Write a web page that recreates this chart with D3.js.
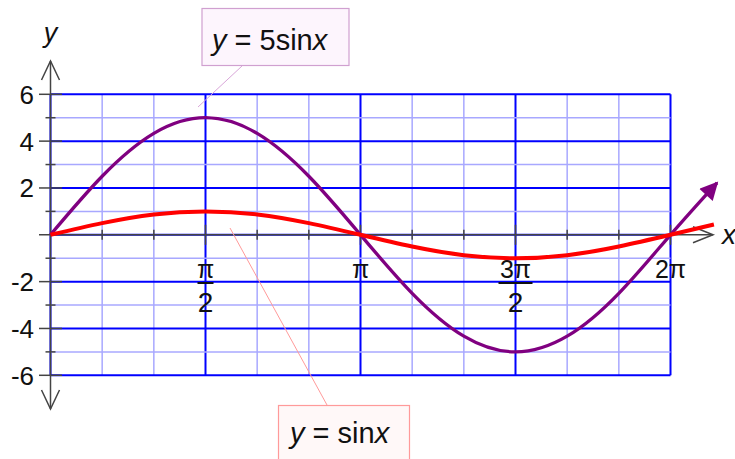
<!DOCTYPE html>
<html>
<head>
<meta charset="utf-8">
<script src="https://cdn.jsdelivr.net/npm/d3@7"></script>
<style>
  body { margin: 0; background: #fff; }
  svg { display: block; font-family: "Liberation Sans", Arial, sans-serif; }
</style>
</head>
<body>
<svg id="chart" width="735" height="459"></svg>
<script>
// x positions are in units of pi/6 (0 .. 12 = 0 .. 2pi)
const sinX = [0, 1, 2, 3, 4, 5, 6, 7, 8, 9, 10, 11, 12, 12.84]
const sinY = [0, 0.5, 0.87, 1, 0.87, 0.5, 0, -0.5, -0.87, -1, -0.87, -0.5, 0, 0.44]
const fiveSinX = [0, 1, 2, 3, 4, 5, 6, 7, 8, 9, 10, 11, 12, 12.9]
const fiveSinY = [0, 2.5, 4.33, 5, 4.33, 2.5, 0, -2.5, -4.33, -5, -4.33, -2.5, 0, 2.22]

const gridX = [0, 1, 2, 3, 4, 5, 6, 7, 8, 9, 10, 11, 12]
const gridY = [-6, -5, -4, -3, -2, -1, 0, 1, 2, 3, 4, 5, 6]
const yTickLabels = [
    { v: 6, t: "6" }, { v: 4, t: "4" }, { v: 2, t: "2" },
    { v: -2, t: "-2" }, { v: -4, t: "-4" }, { v: -6, t: "-6" }
]
const xTickLabels = [
    { v: 3, num: "π", den: "2" },
    { v: 6, num: "π", den: null },
    { v: 9, num: "3π", den: "2" },
    { v: 12, num: "2π", den: null }
]

const svg = d3.select("#chart")

const x = d3.scaleLinear().domain([0, 12]).range([50.5, 670.5])
const y = d3.scaleLinear().domain([-6, 6]).range([375.3, 94.3])

const axisColor = "#444"

// grid
const grid = svg.append("g")
grid.selectAll("line.vgrid")
    .data(gridX)
    .join("line")
    .attr("x1", d => x(d)).attr("x2", d => x(d))
    .attr("y1", y(6)).attr("y2", y(-6))
    .style("stroke", d => d % 3 === 0 ? "#0000ff" : "#a8a8ff")
    .style("stroke-width", d => d % 3 === 0 ? 2 : 1.5)

grid.selectAll("line.hgrid")
    .data(gridY)
    .join("line")
    .attr("x1", x(0)).attr("x2", x(12))
    .attr("y1", d => y(d)).attr("y2", d => y(d))
    .style("stroke", d => d % 2 === 0 ? "#0000ff" : "#a8a8ff")
    .style("stroke-width", d => d % 2 === 0 ? 2 : 1.5)

// axes
const axes = svg.append("g")
    .style("stroke", axisColor)
    .style("stroke-width", 1.5)
    .style("fill", "none")

axes.append("line")
    .attr("x1", x(0)).attr("x2", x(0))
    .attr("y1", 61).attr("y2", 409)
axes.append("line")
    .attr("x1", 39).attr("x2", 713)
    .attr("y1", y(0)).attr("y2", y(0))

// arrow chevrons
axes.append("polyline")
    .attr("points", `${x(0) - 9},80 ${x(0)},61 ${x(0) + 9},80`)
axes.append("polyline")
    .attr("points", `${x(0) - 9},390 ${x(0)},409 ${x(0) + 9},390`)
axes.append("polyline")
    .attr("points", `693,${y(0) - 8} 713,${y(0)} 693,${y(0) + 8}`)

// y ticks
axes.selectAll("line.ytick")
    .data(gridY.filter(d => d !== 0))
    .join("line")
    .attr("x1", d => d % 2 === 0 ? 39 : 45.5)
    .attr("x2", d => d % 2 === 0 ? 62 : 55.5)
    .attr("y1", d => y(d)).attr("y2", d => y(d))

// x ticks
axes.selectAll("line.xtick")
    .data(gridX.filter(d => d !== 0))
    .join("line")
    .attr("x1", d => x(d)).attr("x2", d => x(d))
    .attr("y1", d => y(0) - (d % 3 === 0 ? 10 : 5))
    .attr("y2", d => y(0) + (d % 3 === 0 ? 10 : 5))

// y tick labels
svg.append("g").selectAll("text")
    .data(yTickLabels)
    .join("text")
    .attr("x", 34)
    .attr("y", d => y(d.v) + 9.5)
    .attr("text-anchor", "end")
    .style("font-size", "26px")
    .style("fill", "#111")
    .text(d => d.t)

// x tick labels
const xl = svg.append("g").selectAll("g")
    .data(xTickLabels)
    .join("g")
    .attr("transform", d => `translate(${x(d.v)},0)`)

xl.append("text")
    .attr("y", 278)
    .attr("text-anchor", "middle")
    .style("font-size", "25px")
    .style("fill", "#111")
    .text(d => d.num)

xl.filter(d => d.den)
    .append("line")
    .attr("x1", d => d.num.length > 1 ? -17 : -8)
    .attr("x2", d => d.num.length > 1 ? 17 : 8)
    .attr("y1", 283).attr("y2", 283)
    .style("stroke", "#111")
    .style("stroke-width", 2)

xl.filter(d => d.den)
    .append("text")
    .attr("y", 312)
    .attr("text-anchor", "middle")
    .style("font-size", "28px")
    .style("fill", "#111")
    .text(d => d.den)

// axis names
svg.append("text")
    .attr("x", x(0)).attr("y", 42)
    .attr("text-anchor", "middle")
    .style("font-size", "27px")
    .style("font-style", "italic")
    .style("fill", "#111")
    .text("y")

svg.append("text")
    .attr("x", 722).attr("y", 244)
    .style("font-size", "28px")
    .style("font-style", "italic")
    .style("fill", "#111")
    .text("x")

// curves
const defs = svg.append("defs")
defs.append("marker")
    .attr("id", "purpleArrow")
    .attr("viewBox", "0 0 10 10")
    .attr("refX", 9).attr("refY", 5)
    .attr("markerWidth", 6.5).attr("markerHeight", 5.5)
    .attr("markerUnits", "strokeWidth")
    .attr("orient", "auto")
    .append("path")
    .attr("d", "M0,0 L10,5 L0,10 Z")
    .style("fill", "#800080")

const line = d3.line()
    .x(d => x(d[0]))
    .y(d => y(d[1]))
    .curve(d3.curveNatural)

svg.append("path")
    .datum(fiveSinX.map((v, i) => [v, fiveSinY[i]]))
    .attr("d", line)
    .style("fill", "none")
    .style("stroke", "#800080")
    .style("stroke-width", 3.3)
    .attr("marker-end", "url(#purpleArrow)")

svg.append("path")
    .datum(sinX.map((v, i) => [v, sinY[i]]))
    .attr("d", line)
    .style("fill", "none")
    .style("stroke", "#ff0000")
    .style("stroke-width", 4)

// callouts
svg.append("line")
    .attr("x1", 242).attr("y1", 66)
    .attr("x2", 198).attr("y2", 107)
    .style("stroke", "#d9a6d9")
    .style("stroke-width", 1)

svg.append("rect")
    .attr("x", 202).attr("y", 8.5)
    .attr("width", 147).attr("height", 57)
    .style("fill", "#fdf5fd")
    .style("stroke", "#d0a0d0")
    .style("stroke-width", 1.2)

const t1 = svg.append("text")
    .attr("x", 212).attr("y", 50)
    .style("font-size", "29px")
    .style("fill", "#111")
t1.append("tspan").style("font-style", "italic").text("y")
t1.append("tspan").text(" = 5sin")
t1.append("tspan").style("font-style", "italic").text("x")

svg.append("line")
    .attr("x1", 230).attr("y1", 228)
    .attr("x2", 327).attr("y2", 405)
    .style("stroke", "#ff9a9a")
    .style("stroke-width", 1)

svg.append("rect")
    .attr("x", 278.5).attr("y", 405.5)
    .attr("width", 131).attr("height", 60)
    .style("fill", "#fff8f8")
    .style("stroke", "#ff9a9a")
    .style("stroke-width", 1.2)

const t2 = svg.append("text")
    .attr("x", 290).attr("y", 443)
    .style("font-size", "29px")
    .style("fill", "#111")
t2.append("tspan").style("font-style", "italic").text("y")
t2.append("tspan").text(" = sin")
t2.append("tspan").style("font-style", "italic").text("x")
</script>
</body>
</html>
